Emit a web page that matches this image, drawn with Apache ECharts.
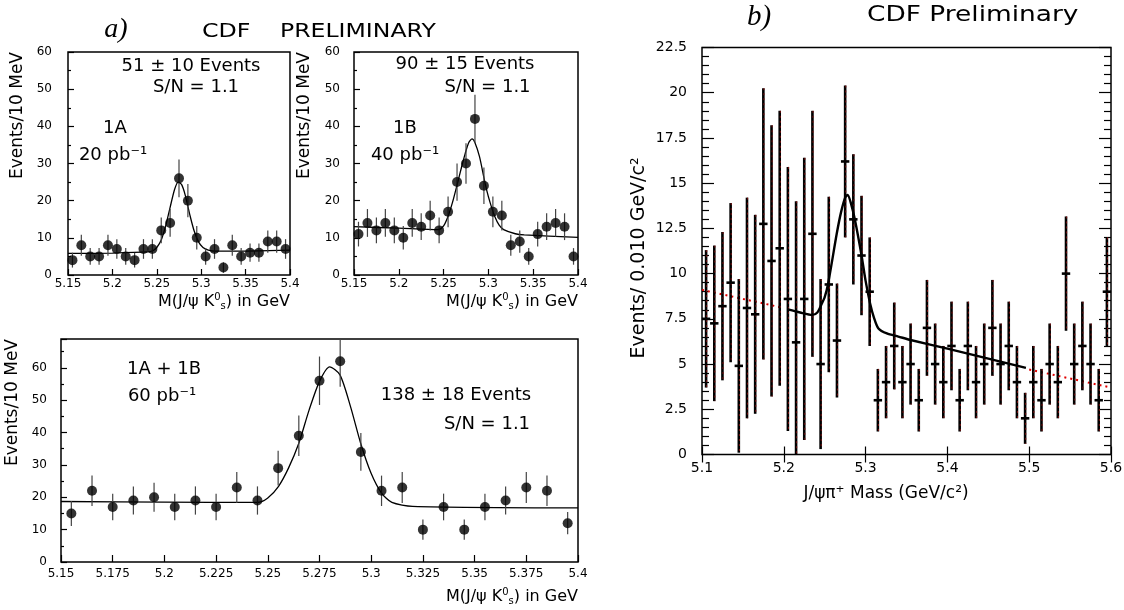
<!DOCTYPE html>
<html><head><meta charset="utf-8">
<script src="https://cdn.jsdelivr.net/npm/echarts@6/dist/echarts.min.js"></script>
<style>html,body{margin:0;padding:0;background:#fff}#c{width:1124px;height:610px}</style>
</head><body><div id="c"></div>
<script>
// ---------- Panel a) data (10 MeV bins) ----------
const massA = [5.155,5.165,5.175,5.185,5.195,5.205,5.215,5.225,5.235,5.245,5.255,5.265,5.275,5.285,5.295,5.305,5.315,5.325,5.335,5.345,5.355,5.365,5.375,5.385,5.395];
const events1A = [4,8,5,5,8,7,5,4,7,7,12,14,26,20,10,5,7,2,8,5,6,6,9,9,7];
const events1B = [11,14,12,14,12,10,14,13,16,12,17,25,30,42,24,17,16,8,9,5,11,13,14,13,5];
const events1A1B = [15,22,17,19,20,17,19,17,23,19,29,39,56,62,34,22,23,10,17,10,17,19,23,22,12];
// fitted curves: [mass, events]
const fit1A = [[5.15,5.8],[5.2,5.9],[5.24,6.2],[5.246,6.6],[5.25,7.4],[5.255,9.4],[5.26,13.2],[5.265,18.2],[5.27,23.0],[5.274,25.0],[5.278,24.3],[5.282,21.5],[5.2876,15.8],[5.292,11.9],[5.297,8.9],[5.302,7.4],[5.308,6.7],[5.315,6.4],[5.33,6.4],[5.4,6.7]];
const fit1B = [[5.15,13.0],[5.2,12.6],[5.244,12.2],[5.25,13.2],[5.255,15.8],[5.26,19.6],[5.265,24.2],[5.27,29.0],[5.274,32.6],[5.278,35.6],[5.2817,36.6],[5.285,35.6],[5.29,31.9],[5.295,26.2],[5.298,22.9],[5.302,19.4],[5.307,15.8],[5.312,13.4],[5.317,12.2],[5.33,11.1],[5.34,10.8],[5.4,10.1]];
const fit1A1B = [[5.15,18.7],[5.2,18.5],[5.245,18.4],[5.25,19.8],[5.2552,23.4],[5.26,29.0],[5.265,36.7],[5.27,47.0],[5.275,55.8],[5.2799,60.3],[5.2849,57.8],[5.29,48.0],[5.2949,36.7],[5.2999,27.5],[5.305,21.3],[5.31,18.4],[5.32,17.2],[5.4,16.7]];
// ---------- Panel b) data ----------
const massB = [5.105,5.115,5.125,5.135,5.145,5.155,5.165,5.175,5.185,5.195,5.205,5.215,5.225,5.235,5.245,5.255,5.265,5.275,5.285,5.295,5.305,5.315,5.325,5.335,5.345,5.355,5.365,5.375,5.385,5.395,5.405,5.415,5.425,5.435,5.445,5.455,5.465,5.475,5.485,5.495,5.505,5.515,5.525,5.535,5.545,5.555,5.565,5.575,5.585,5.595];
const eventsB = [7.5,7.25,8.2,9.5,4.9,8.1,7.75,12.75,10.7,11.4,8.6,6.2,8.6,12.2,5.0,9.4,6.3,16.2,13.0,11.0,9.0,3,4,6,4,5,3,7,5,4,6,3,6,4,5,7,5,6,4,2,4,3,5,4,10,5,6,5,3,9];
const errorsB = [3.8,4.3,4.1,4.4,4.8,6.1,5.5,7.5,7.5,7.6,7.3,7.8,7.8,6.8,4.7,4.85,3.15,4.2,3.6,3.3,3.0,1.73,2.0,2.4,2.0,2.24,1.73,2.65,2.24,2.0,2.45,1.73,2.45,2.0,2.24,2.65,2.24,2.45,2.0,1.41,2.0,1.73,2.24,2.0,3.16,2.24,2.45,2.24,1.73,3.0];
const fitB = [[5.205,8.02],[5.22,7.85],[5.235,7.72],[5.241,7.85],[5.246,8.3],[5.25,8.7],[5.2544,9.5],[5.2647,12.2],[5.27,13.4],[5.275,14.2],[5.278,14.35],[5.282,13.9],[5.287,12.97],[5.2953,10.94],[5.3,9.6],[5.3055,8.35],[5.31,7.6],[5.3157,6.97],[5.326,6.69],[5.34,6.52],[5.355,6.33],[5.4,5.85],[5.45,5.3],[5.496,4.79]];
const bkgBLeft = [[5.1,9.1],[5.2,8.1]];
const bkgBRight = [[5.5,4.7],[5.6,3.7]];

const FONT = '"DejaVu Sans", sans-serif';
const chart = echarts.init(document.getElementById('c'), null, {renderer:'canvas'});
const fmt = v => String(+(+v).toFixed(3));

function gridOf(left, top, width, height){
  return {left, top, width, height, show:true, borderColor:'#000', borderWidth:1.5, backgroundColor:'transparent', containLabel:false, outerBoundsMode:'none'};
}
function xAx(gi, min, max, interval, fs, margin, tickLen, extra){
  return Object.assign({type:'value', gridIndex:gi, min, max, interval,
    axisLine:{show:false}, splitLine:{show:false},
    axisTick:{show:true, inside:true, length:tickLen, lineStyle:{color:'#000', width:1.2}},
    axisLabel:{show:true, fontSize:fs, color:'#000', fontFamily:FONT, margin, formatter:fmt}}, extra||{});
}
function yAx(gi, min, max, interval, minorSplit, fs, margin, tickLen, extra){
  return Object.assign({type:'value', gridIndex:gi, min, max, interval,
    axisLine:{show:false}, splitLine:{show:false},
    axisTick:{show:true, inside:true, length:tickLen, lineStyle:{color:'#000', width:1.2}},
    minorTick:{show:true, splitNumber:minorSplit, length:Math.round(tickLen*0.55), lineStyle:{color:'#000', width:1.2}},
    axisLabel:{show:true, fontSize:fs, color:'#000', fontFamily:FONT, margin, formatter:fmt, showMaxLabel:true}}, extra||{});
}

function clampY(cs, y){ return Math.max(cs.y, Math.min(cs.y+cs.height, y)); }
function errRenderA(params, api){
  const x = api.value(0), y = api.value(1), e = api.value(2);
  const cs = params.coordSys;
  const t = api.coord([x, y+e]), b = api.coord([x, y-e]);
  return {type:'line', shape:{x1:t[0], y1:clampY(cs,t[1]), x2:b[0], y2:clampY(cs,b[1])}, style:{stroke:'#444', lineWidth:1.2}};
}
function errRenderB(params, api){
  const x = api.value(0), y = api.value(1), e = api.value(2);
  const cs = params.coordSys;
  const t = api.coord([x, y+e]), b = api.coord([x, y-e]), c = api.coord([x, y]);
  const y1 = clampY(cs,t[1]), y2 = clampY(cs,b[1]);
  return {type:'group', children:[
    {type:'line', shape:{x1:t[0], y1, x2:b[0], y2}, style:{stroke:'#000', lineWidth:2.6}},
    {type:'line', shape:{x1:t[0]+0.6, y1, x2:b[0]+0.6, y2}, style:{stroke:'#8a1010', lineWidth:0.9, lineDash:[2,3]}},
    {type:'line', shape:{x1:c[0]-4.2, y1:c[1], x2:c[0]+4.2, y2:c[1]}, style:{stroke:'#000', lineWidth:2.6}}
  ]};
}

function pointsSeries(xi, mass, ev){
  return {type:'scatter', xAxisIndex:xi, yAxisIndex:xi, data: mass.map((m,i)=>[m, ev[i]]), symbol:'circle', symbolSize:10, itemStyle:{color:'#000'}, z:5, silent:true};
}
function errSeriesA(xi, mass, ev){
  // Poisson (sqrt N) error bars, as drawn in the figure
  return {type:'custom', xAxisIndex:xi, yAxisIndex:xi, data: mass.map((m,i)=>[m, ev[i], Math.sqrt(ev[i])]), renderItem: errRenderA, encode:{x:0,y:1}, z:4, silent:true};
}
function fitSeries(xi, data, w){
  return {type:'line', xAxisIndex:xi, yAxisIndex:xi, data, showSymbol:false, symbol:'none', smooth:0.25, lineStyle:{color:'#000', width:w}, z:3, silent:true};
}

function txt(x, y, text, size, o){
  o = o || {};
  const el = {type:'text', x, y, z:100, silent:true,
    style: Object.assign({text, fontSize:size, fontFamily:FONT, fill:'#000', textAlign:o.align||'center', align:o.align||'center', textVerticalAlign:'middle', verticalAlign:'middle'}, o.style||{})};
  if (o.rotation) el.rotation = o.rotation;
  if (o.scaleX) el.scaleX = o.scaleX;
  return el;
}
const kRich = {sup:{fontSize:10, fontFamily:FONT, fill:'#000', padding:[0,0,9,0]}, sub:{fontSize:10, fontFamily:FONT, fill:'#000', padding:[9,0,0,0]}};
const kText = 'M(J/ψ K{sup|0}{sub|s}) in GeV';

const option = {
  animation:false,
  backgroundColor:'#fff',
  grid:[gridOf(68,52,222,223), gridOf(354,52,224,223), gridOf(61,339,517,223), gridOf(702,47.5,409,407)],
  xAxis:[
    xAx(0,5.15,5.4,0.05,12,3,6),
    xAx(1,5.15,5.4,0.05,12,3,6),
    xAx(2,5.15,5.4,0.025,12,6,7),
    xAx(3,5.1,5.6,0.1,14,7,8),
    xAx(3,5.1,5.6,0.1,14,7,8,{position:'top', axisLabel:{show:false}})
  ],
  yAxis:[
    yAx(0,0,60,10,2,12,16,6),
    yAx(1,0,60,10,2,12,14,6),
    yAx(2,0,68.9,10,2,12,14,6,{axisLabel:{show:true, fontSize:12, color:'#000', fontFamily:FONT, margin:14, formatter:fmt, showMaxLabel:false}}),
    yAx(3,0,22.5,2.5,5,14,15,12),
    yAx(3,0,22.5,2.5,5,14,15,12,{position:'right', axisLabel:{show:false}})
  ],
  series:[
    fitSeries(0, fit1A, 1.3), errSeriesA(0, massA, events1A), pointsSeries(0, massA, events1A),
    fitSeries(1, fit1B, 1.3), errSeriesA(1, massA, events1B), pointsSeries(1, massA, events1B),
    fitSeries(2, fit1A1B, 1.3), errSeriesA(2, massA, events1A1B), pointsSeries(2, massA, events1A1B),
    {type:'custom', xAxisIndex:3, yAxisIndex:3, data: massB.map((m,i)=>[m, eventsB[i], errorsB[i]]), renderItem: errRenderB, encode:{x:0,y:1}, z:4, silent:true},
    Object.assign(fitSeries(3, fitB, 2.4), {z:6}),
    {type:'line', xAxisIndex:3, yAxisIndex:3, data:bkgBLeft, showSymbol:false, symbol:'none', lineStyle:{color:'#e00000', width:2, type:[2,4]}, z:2, silent:true},
    {type:'line', xAxisIndex:3, yAxisIndex:3, data:bkgBRight, showSymbol:false, symbol:'none', lineStyle:{color:'#e00000', width:2, type:[2,4]}, z:2, silent:true}
  ],
  graphic:[
    txt(116, 30, 'a)', 28, {style:{fontFamily:'"Liberation Serif", serif', fontStyle:'italic'}}),
    txt(202, 32, 'CDF', 19, {align:'left', scaleX:1.25}),
    txt(280, 32, 'PRELIMINARY', 19, {align:'left', scaleX:1.24}),
    txt(759, 17, 'b)', 29, {style:{fontFamily:'"Liberation Serif", serif', fontStyle:'italic'}}),
    txt(867, 15, 'CDF Preliminary', 22, {align:'left', scaleX:1.2}),
    // 1A
    txt(191, 66, '51 ± 10 Events', 18),
    txt(196, 87.5, 'S/N = 1.1', 18),
    txt(115, 128, '1A', 18),
    txt(113, 155, '20 pb⁻¹', 18),
    // 1B
    txt(465, 64, '90 ± 15 Events', 18),
    txt(487.5, 87, 'S/N = 1.1', 18),
    txt(405, 128, '1B', 18),
    txt(405, 155, '40 pb⁻¹', 18),
    // 1A+1B
    txt(164, 369, '1A + 1B', 18),
    txt(162, 396, '60 pb⁻¹', 18),
    txt(456, 395, '138 ± 18 Events', 18),
    txt(487, 424, 'S/N = 1.1', 18),
    // axis names
    txt(17.5, 52, 'Events/10 MeV', 17, {align:'right', rotation:Math.PI/2}),
    txt(305, 52, 'Events/10 MeV', 17, {align:'right', rotation:Math.PI/2}),
    txt(13, 339, 'Events/10 MeV', 17, {align:'right', rotation:Math.PI/2}),
    txt(290, 302, kText, 16, {align:'right', style:{rich:kRich}}),
    txt(578, 302, kText, 16, {align:'right', style:{rich:kRich}}),
    txt(578, 597, kText, 16, {align:'right', style:{rich:kRich}}),
    txt(639, 258, 'Events/ 0.010 GeV/c²', 19, {rotation:Math.PI/2}),
    txt(886, 494, 'J/ψπ⁺ Mass (GeV/c²)', 17)
  ]
};
chart.setOption(option);
</script></body></html>
